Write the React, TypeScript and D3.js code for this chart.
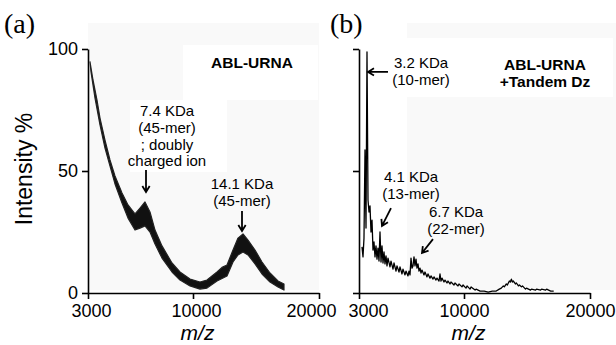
import { useEffect, useRef } from 'react'
import * as d3 from 'd3'

// x axis is not linear in the figure: 3000-10000 takes 105 px, 10000-20000 takes 126 px
const X_TICKS = [3000, 10000, 20000]
const Y_TICKS = [0, 50, 100]

// panel (a): the noisy spectrum is drawn as a band (upper / lower envelope)
const aUpperMz = [3133, 3333, 3600, 3800, 4133, 4467, 4800, 5267, 5667, 6133, 6467, 6800, 7133, 7467, 7933, 8600, 9133, 9800, 10556, 11111, 11905, 12302, 12698, 13175, 13571, 13968, 14365, 14921, 15476, 16111, 16746, 17222]
const aUpperInt = [94.7, 87.3, 79.1, 71.7, 62.7, 54.5, 48.0, 41.0, 36.1, 32.4, 34.8, 37.3, 33.2, 25.8, 19.3, 12.3, 8.6, 5.7, 4.5, 5.3, 8.6, 10.5, 11.5, 17.6, 22.5, 24.2, 21.7, 17.6, 12.7, 8.2, 4.9, 3.7]
const aLowerMz = [3200, 3467, 3800, 4133, 4467, 4800, 5267, 5667, 6133, 6467, 6800, 7133, 7467, 7933, 8600, 9133, 9800, 10556, 11111, 11905, 12698, 13175, 13571, 13968, 14365, 14921, 15476, 16111, 16746, 17222]
const aLowerInt = [90.6, 79.9, 68.9, 59.4, 52.0, 44.7, 36.9, 30.7, 25.8, 26.6, 27.5, 25.0, 20.1, 14.3, 8.6, 5.3, 2.9, 1.6, 2.0, 4.9, 7.0, 12.7, 15.6, 16.8, 15.6, 11.9, 7.8, 4.5, 2.5, 1.2]

// panel (b): line spectrum
const bMz = [3200, 3267, 3333, 3400, 3467, 3533, 3600, 3667, 3733, 3800, 3867, 3933, 4000, 4067, 4133, 4200, 4267, 4333, 4400, 4467, 4533, 4600, 4667, 4733, 4800, 4867, 4933, 5067, 5133, 5267, 5333, 5467, 5533, 5667, 5733, 5867, 5933, 6067, 6133, 6267, 6333, 6400, 6467, 6533, 6600, 6667, 6733, 6800, 6867, 6933, 7000, 7067, 7133, 7200, 7333, 7400, 7533, 7600, 7733, 7800, 7933, 8000, 8133, 8200, 8333, 8400, 8467, 8533, 8667, 8733, 8867, 8933, 9067, 9133, 9333, 9400, 9600, 9667, 9867, 9933, 10160, 10240, 10480, 10560, 10880, 10960, 11280, 11600, 11920, 12240, 12560, 12800, 12960, 13120, 13200, 13360, 13440, 13600, 13680, 13760, 13840, 13920, 14080, 14160, 14320, 14400, 14560, 14640, 14880, 14960, 15280, 15360, 15680, 15760, 16080, 16160, 16480, 16560, 16880, 17120]
const bInt = [18.9, 14.8, 22.5, 58.6, 26.6, 98.8, 38.1, 33.2, 35.7, 25.0, 29.9, 17.6, 20.9, 14.8, 19.3, 13.9, 18.4, 13.1, 25.0, 12.7, 19.3, 12.3, 16.8, 11.9, 15.2, 11.1, 14.3, 10.7, 13.1, 9.8, 12.3, 9.0, 11.1, 8.6, 10.7, 7.8, 9.8, 7.4, 9.0, 7.0, 9.0, 7.4, 14.3, 10.2, 11.1, 14.8, 11.1, 13.9, 10.2, 11.9, 9.0, 10.2, 8.2, 9.4, 7.4, 8.6, 6.6, 7.8, 6.1, 7.0, 5.7, 6.6, 5.3, 6.1, 4.9, 7.8, 4.9, 6.1, 4.5, 5.3, 4.1, 4.9, 3.7, 4.5, 3.3, 4.1, 2.9, 3.7, 2.5, 3.3, 2.0, 2.9, 1.6, 2.5, 1.2, 1.6, 0.8, 0.8, 0.4, 0.8, 0.8, 1.6, 2.0, 2.9, 2.5, 3.7, 3.3, 4.9, 4.5, 5.7, 4.5, 4.9, 3.7, 4.1, 2.9, 3.3, 2.5, 2.9, 1.6, 2.0, 1.2, 1.6, 1.2, 1.6, 1.2, 1.6, 1.2, 1.6, 0.8, 0.8]

// annotations in data coordinates: [m/z, intensity]
interface Note { lines: string[]; at: [number, number]; bold?: boolean; arrow?: [[number, number], [number, number]] }
const aNotes: Note[] = [
  { lines: ['ABL-URNA'], at: [14683, 92.2], bold: true },
  { lines: ['7.4 KDa', '(45-mer)', '; doubly', 'charged ion'], at: [8267, 72.5], arrow: [[6867, 50.4], [6867, 41.4]] },
  { lines: ['14.1 KDa', '(45-mer)'], at: [13889, 42.6], arrow: [[13889, 33.6], [13889, 25.4]] },
]
const bNotes: Note[] = [
  { lines: ['ABL-URNA', '+Tandem Dz'], at: [16429, 91.4], bold: true },
  { lines: ['3.2 KDa', '(10-mer)'], at: [7133, 92.2], arrow: [[4933, 90.6], [3600, 90.6]] },
  { lines: ['4.1 KDa', '(13-mer)'], at: [6467, 45.5], arrow: [[5133, 34.8], [4533, 27.5]] },
  { lines: ['6.7 KDa', '(22-mer)'], at: [9467, 31.1], arrow: [[7933, 22.1], [7200, 16.4]] },
]

const FONT = 'Liberation Sans, Arial, sans-serif'
const W = 616, H = 345
const PANEL_W = 231
const TOP = 49, BOTTOM = 293
const LEFT_A = 88, LEFT_B = 359

export default function App() {
  const svgRef = useRef<SVGSVGElement>(null)

  useEffect(() => {
    const svg = d3.select(svgRef.current)
    svg.selectAll('*').remove()
    svg.append('rect').attr('width', W).attr('height', H).attr('fill', '#fff')

    // faint grey backdrops with white label boxes, as in the scanned figure
    svg.append('rect').attr('x', 88).attr('y', 23).attr('width', 231).attr('height', 267).attr('fill', '#f9f9f9')
    svg.append('rect').attr('x', 183).attr('y', 45).attr('width', 135).attr('height', 55).attr('fill', '#fff')
    svg.append('rect').attr('x', 130).attr('y', 100).attr('width', 97).attr('height', 72).attr('fill', '#fff')
    svg.append('rect').attr('x', 407).attr('y', 23).attr('width', 209).attr('height', 267).attr('fill', '#f9f9f9')
    svg.append('rect').attr('x', 388).attr('y', 38).attr('width', 225).attr('height', 59).attr('fill', '#fff')

    const y = d3.scaleLinear().domain([0, 100]).range([BOTTOM, TOP])

    const drawPanel = (left: number, label: string, showY: boolean, notes: Note[], edgeShift: [number, number, number]) => {
      const x = d3.scaleLinear().domain(X_TICKS).range([left, left + 105, left + PANEL_W])
      const g = svg.append('g')

      const ax = g.append('g').attr('transform', `translate(0,${BOTTOM})`)
        .call(d3.axisBottom(x).tickValues(X_TICKS).tickFormat(d3.format('d')).tickSize(6).tickSizeOuter(0).tickPadding(5))
      const ay = g.append('g').attr('transform', `translate(${left},0)`)
        .call(d3.axisLeft(y).tickValues(Y_TICKS).tickFormat(showY ? d3.format('d') : () => '').tickSize(6).tickSizeOuter(0).tickPadding(4))
      ;[ax, ay].forEach((a) => {
        a.select('.domain').attr('stroke', '#000').attr('stroke-width', 1.6)
        a.selectAll('.tick line').attr('stroke', '#000').attr('stroke-width', 1.6)
        a.selectAll('.tick text').attr('fill', '#000').attr('font-size', '18px').attr('font-family', FONT)
      })
      // the scanned labels at the panel edges sit a little off their ticks
      ax.selectAll('.tick text').attr('dx', (_, i) => edgeShift[i])

      svg.append('text').attr('x', left === LEFT_A ? 4 : 330).attr('y', 33)
        .attr('font-family', 'Liberation Serif, Times New Roman, serif').attr('font-size', '28px').text(label)
      svg.append('text').attr('x', left + PANEL_W / 2 - 6).attr('y', 340).attr('text-anchor', 'middle')
        .attr('font-family', FONT).attr('font-style', 'italic').attr('font-size', '21px').text('m/z')

      notes.forEach((n) => {
        const t = g.append('text').attr('text-anchor', 'middle').attr('font-family', FONT)
          .attr('font-size', n.bold ? '15.5px' : '15px').attr('font-weight', n.bold ? 'bold' : 'normal')
        n.lines.forEach((ln, i) => {
          t.append('tspan').attr('x', x(n.at[0])).attr('y', y(n.at[1]) + i * (n.bold ? 17 : 16.7)).text(ln)
        })
        if (n.arrow) {
          const [p0, p1] = n.arrow
          const x0 = x(p0[0]), y0 = y(p0[1]), x1 = x(p1[0]), y1 = y(p1[1])
          const ang = Math.atan2(y1 - y0, x1 - x0)
          const hl = 7, hw = 0.55
          const path = `M${x0},${y0}L${x1},${y1}M${x1 - hl * Math.cos(ang - hw)},${y1 - hl * Math.sin(ang - hw)}L${x1},${y1}L${x1 - hl * Math.cos(ang + hw)},${y1 - hl * Math.sin(ang + hw)}`
          g.append('path').attr('d', path).attr('fill', 'none').attr('stroke', '#000').attr('stroke-width', 1.8)
        }
      })
      return { x, g }
    }

    const A = drawPanel(LEFT_A, '(a)', true, aNotes, [3, 3, -8])
    const band: [number, number][] = [
      ...aUpperMz.map((m, i) => [A.x(m), y(aUpperInt[i])] as [number, number]),
      ...aLowerMz.map((m, i) => [A.x(m), y(aLowerInt[i])] as [number, number]).reverse(),
    ]
    A.g.append('path').attr('d', (d3.line()(band) ?? '') + 'Z')
      .attr('fill', '#111').attr('stroke', '#222').attr('stroke-width', 1.2).attr('stroke-linejoin', 'round')

    const B = drawPanel(LEFT_B, '(b)', false, bNotes, [9, 0, 0])
    const bLine = d3.line<number>().x((m) => B.x(m)).y((_, i) => y(bInt[i]))
    B.g.append('path').datum(bMz).attr('d', bLine).attr('fill', 'none').attr('stroke', '#000').attr('stroke-width', 1.3).attr('stroke-linejoin', 'round')

    svg.append('text').attr('transform', `translate(32,${(TOP + BOTTOM) / 2 - 2}) rotate(-90)`).attr('text-anchor', 'middle')
      .attr('font-family', FONT).attr('font-size', '23px').text('Intensity %')
  }, [])

  return (
    <div style={{ position: 'absolute', left: 0, top: 0 }}>
      <svg ref={svgRef} width={W} height={H} style={{ display: 'block' }} />
    </div>
  )
}
